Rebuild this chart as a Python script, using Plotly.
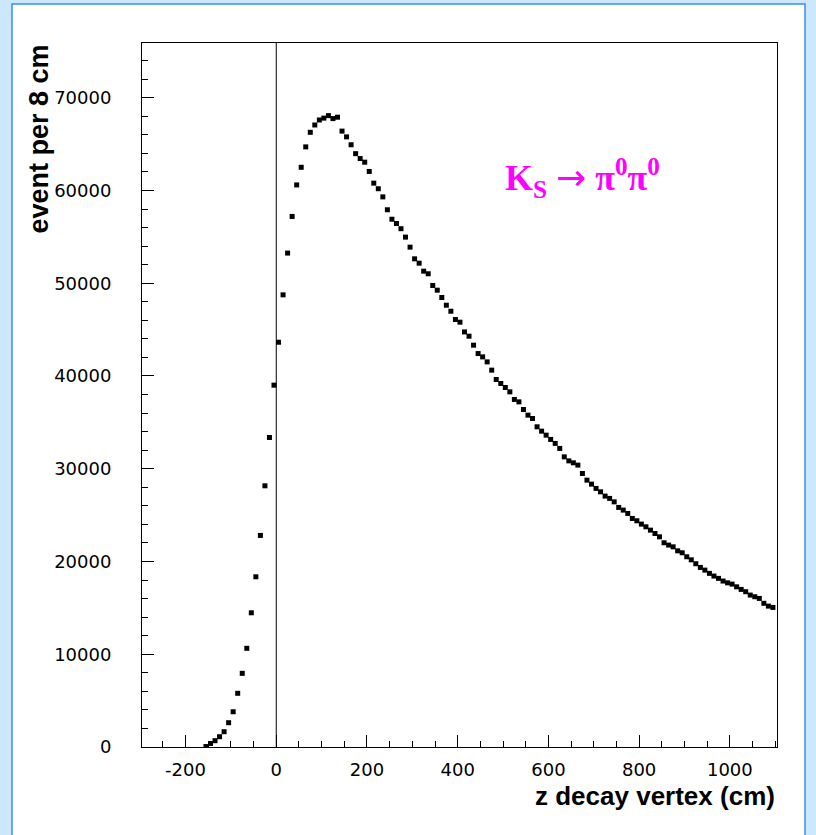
import plotly.graph_objects as go

# bin centres (cm) and entries
z_cm = [-155, -145, -135, -125, -115, -105, -95, -85, -75, -65, -55, -45, -35, -25, -15, -5,
        5, 15, 25, 35, 45, 55, 65, 75, 85, 95,
        105, 115, 125, 135, 145, 155, 165, 175, 185, 195,
        205, 215, 225, 235, 245, 255, 265, 275, 285, 295,
        305, 315, 325, 335, 345, 355, 365, 375, 385, 395,
        405, 415, 425, 435, 445, 455, 465, 475, 485, 495,
        505, 515, 525, 535, 545, 555, 565, 575, 585, 595,
        605, 615, 625, 635, 645, 655, 665, 675, 685, 695,
        705, 715, 725, 735, 745, 755, 765, 775, 785, 795,
        805, 815, 825, 835, 845, 855, 865, 875, 885, 895,
        905, 915, 925, 935, 945, 955, 965, 975, 985, 995,
        1005, 1015, 1025, 1035, 1045, 1055, 1065, 1075, 1085, 1095]

events = [50, 380, 680, 1110, 1650, 2620, 3800, 5790, 7940, 10640, 14470, 18350, 22810, 28160, 33370, 39010,
          43640, 48750, 53250, 57200, 60600, 62500, 64700, 66270, 67060, 67600,
          67800, 68070, 67750, 67900, 66400, 65780, 64930, 63970, 63440, 63050,
          62050, 60790, 60190, 59310, 57920, 56900, 56440, 55880, 54970, 53890,
          52630, 52160, 51300, 51020, 49760, 49250, 48460, 47630, 46980, 46090,
          45800, 44750, 44290, 43320, 42420, 42060, 41520, 40630, 39620, 39190,
          38760, 38290, 37470, 37210, 36390, 35780, 35420, 34520, 34050, 33620,
          33160, 32730, 32190, 31280, 30850, 30640, 30390, 29490, 28770, 28340,
          27880, 27510, 27050, 26800, 26430, 25830, 25540, 25180, 24640, 24390,
          24030, 23740, 23380, 23020, 22660, 22020, 21770, 21580, 21150, 20940,
          20510, 20180, 19760, 19360, 19070, 18720, 18430, 18180, 17890, 17700,
          17560, 17270, 16990, 16740, 16380, 16200, 16020, 15490, 15190, 15050]

x_ticks = [-200, 0, 200, 400, 600, 800, 1000]
y_ticks = [0, 10000, 20000, 30000, 40000, 50000, 60000, 70000]
x_range = [-296, 1104]
y_range = [0, 75900]

x_title = "z decay vertex (cm)"
y_title = "event per 8 cm"
label = ("K<sub>S</sub> <span style='font-family:DejaVu Sans;font-weight:normal'>→</span> "
         "π<sup>0</sup>π<sup>0</sup>")

W, H = 816, 835
ML, MR, MT, MB = 142, 39, 43, 88
pw = W - ML - MR
ph = H - MT - MB

fig = go.Figure()
fig.add_trace(go.Scatter(
    x=z_cm, y=events, mode="markers",
    marker=dict(symbol="square", size=5, color="black", line=dict(width=0)),
    showlegend=False, hoverinfo="x+y"))

# white inner panel on light-blue page
fig.add_shape(type="rect", xref="paper", yref="paper",
              x0=(12 - ML) / pw, x1=(805 - ML) / pw,
              y0=-(H + 10 - MT - ph) / ph, y1=1 + (MT - 4) / ph,
              fillcolor="white", line=dict(color="#3c8cf0", width=1.5), layer="below")
# vertical line at z = 0
fig.add_shape(type="line", xref="x", yref="paper", x0=0, x1=0, y0=0, y1=1,
              line=dict(color="black", width=1))

axis_common = dict(showgrid=False, zeroline=False, showline=True, linecolor="black",
                   linewidth=1, mirror=True, ticks="inside", ticklen=12, tickwidth=1,
                   tickcolor="black",
                   tickfont=dict(family="DejaVu Sans", size=18, color="black"))

fig.update_xaxes(range=x_range, tickvals=x_ticks, ticktext=[str(v) for v in x_ticks],
                 minor=dict(dtick=50, ticklen=6, ticks="inside", tickcolor="black"),
                 ticklabelstandoff=6, **axis_common)
fig.update_yaxes(range=y_range, tickvals=y_ticks, ticktext=[str(v) for v in y_ticks],
                 minor=dict(dtick=2000, ticklen=6, ticks="inside", tickcolor="black"),
                 ticklabelstandoff=26, **axis_common)

fig.add_annotation(text=x_title, xref="paper", yref="paper", x=1, y=0,
                   xanchor="right", yanchor="middle", yshift=-49, showarrow=False,
                   font=dict(family="Liberation Sans", size=26, color="black", weight="bold"))
fig.add_annotation(text=y_title, xref="paper", yref="paper", x=0, y=1,
                   xanchor="center", yanchor="top", xshift=38 - ML, textangle=-90,
                   showarrow=False,
                   font=dict(family="Liberation Sans", size=27, color="black", weight="bold"))
fig.add_annotation(text=label, xref="x", yref="y", x=676, y=61300,
                   xanchor="center", yanchor="middle", showarrow=False,
                   font=dict(family="Liberation Serif", size=36, color="#ff00ff", weight="bold"))

fig.update_layout(width=W, height=H, margin=dict(l=ML, r=MR, t=MT, b=MB),
                  paper_bgcolor="#cce8ff", plot_bgcolor="white", showlegend=False)

fig.write_html("out.html", config={"displayModeBar": False},
               post_script="document.body.style.margin='0';document.body.style.background='#cce8ff';")
